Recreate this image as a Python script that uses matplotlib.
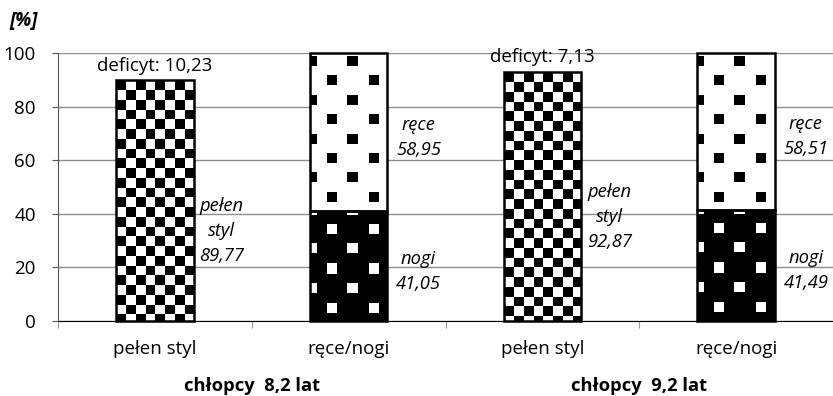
import numpy as np
import matplotlib.pyplot as plt

plt.rcParams['font.family'] = ['Open Sans', 'DejaVu Sans']

# data
categories = ['pełen styl', 'ręce/nogi', 'pełen styl', 'ręce/nogi']
groups = ['chłopcy  8,2 lat', 'chłopcy  9,2 lat']
full_pos = [0, 2]
full_vals = [89.77, 92.87]
deficit_vals = [10.23, 7.13]
split_pos = [1, 3]
legs_vals = [41.05, 41.49]   # nogi
arms_vals = [58.95, 58.51]   # ręce


def fmt(v):
    return f'{v:.2f}'.replace('.', ',')


W, H = 833, 396
fig = plt.figure(figsize=(W / 100, H / 100), dpi=100)
ax = fig.add_axes([58 / W, 1 - 321 / H, 1 - 58 / W, 268 / H])
ax.set_xlim(-0.5, 3.5)
ax.set_ylim(0, 100)
PX_X = (W - 58) / 4.0
PX_Y = 268 / 100.0


def fill_pattern(patch, kind, phase=0.0):
    """Paint a texture image inside a bar patch."""
    x0, y0 = patch.get_x(), patch.get_y()
    w, h = patch.get_width(), patch.get_height()
    wpx = max(int(round(w * PX_X)), 1)
    hpx = max(int(round(h * PX_Y)), 1)
    yy, xx = np.mgrid[0:hpx, 0:wpx]
    if kind == 'checker':
        c = wpx / 8.0
        img = ((xx // c + yy // c) % 2 == 0)
    else:
        py, px, size = 19.4, 40.5, 10.0
        k = np.floor((yy - phase) / py)
        in_row = ((yy - phase) - k * py) < size
        shift = np.where(k % 2 == 0, -3.5, 17.0)
        in_col = ((xx - shift) % px) < size
        sq = in_row & in_col
        img = sq if kind == 'dots' else ~sq
    im = ax.imshow(img.astype(float), cmap='gray_r', vmin=0, vmax=1,
                   extent=(x0, x0 + w, y0, y0 + h), origin='upper',
                   interpolation='nearest', aspect='auto', zorder=2)
    im.set_clip_path(patch)


bw = 0.4
edge = dict(facecolor='none', edgecolor='black', linewidth=1.8, zorder=3)
full_bars = ax.bar(full_pos, full_vals, bw, **edge)
legs_bars = ax.bar(split_pos, legs_vals, bw, **edge)
arms_bars = ax.bar(split_pos, arms_vals, bw, bottom=legs_vals, **edge)
for p in full_bars:
    fill_pattern(p, 'checker')
for p in legs_bars:
    fill_pattern(p, 'inv_dots', phase=-5.9)
for p in arms_bars:
    fill_pattern(p, 'dots', phase=2.5)
for b in list(full_bars) + list(legs_bars) + list(arms_bars):
    b.set_clip_on(False)

ax.set_xlim(-0.5, 3.5)
ax.set_ylim(0, 100)

# grid and axes
ax.set_yticks(range(0, 101, 20))
ax.yaxis.grid(True, color='#8c8c8c', linewidth=1)
ax.set_axisbelow(True)
for s in ['top', 'right']:
    ax.spines[s].set_visible(False)
ax.spines['left'].set_color('#555555')
ax.spines['bottom'].set_color('black')
ax.tick_params(axis='y', length=4, color='#555555', pad=12, labelsize=13.5)
ax.set_xticks([-0.5, 0.5, 1.5, 2.5])
ax.set_xticklabels([])
ax.tick_params(axis='x', length=5, color='#999999')
ax.set_xticks(range(4), minor=True)
ax.set_xticklabels(categories, minor=True)
ax.tick_params(axis='x', which='minor', length=0, pad=14, labelsize=13.5)

# labels
fig.text(24 / W, 1 - 21 / H, '[%]', fontsize=13.5, fontweight='bold',
         style='italic', ha='center', va='center')
for x, v, d in zip(full_pos, full_vals, deficit_vals):
    ax.text(x, v + 2.2, f'deficyt: {fmt(d)}', ha='center', va='bottom',
            fontsize=13.5)
lab = dict(ha='center', va='center', style='italic', fontsize=13.2,
           linespacing=1.5)
full_label_y = [33.5, 38.7]
for x, v, ly in zip(full_pos, full_vals, full_label_y):
    ax.text(x + 0.345, ly, f'pełen\nstyl\n{fmt(v)}', **lab)
for x, lo, hi in zip(split_pos, legs_vals, arms_vals):
    ax.text(x + 0.36, lo / 2 - 2, f'nogi\n{fmt(lo)}', **lab)
    ax.text(x + 0.36, lo + hi / 2 - 2, f'ręce\n{fmt(hi)}', **lab)
for gx, g in zip([0.5, 2.5], groups):
    ax.text(gx, -24.3, g, ha='center', va='center', fontsize=13.2,
            fontweight='bold')

fig.savefig('out.png', dpi=100)
